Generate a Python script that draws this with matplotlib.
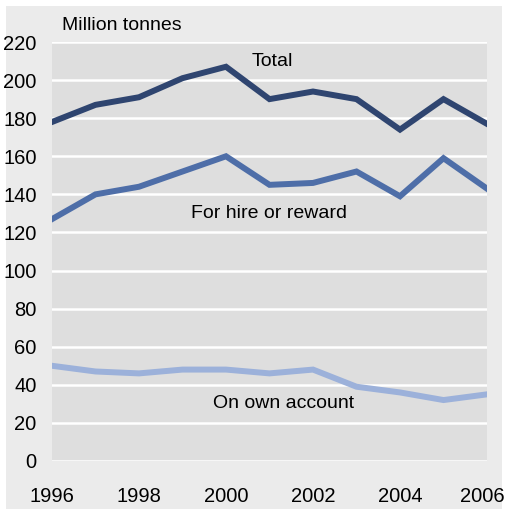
import matplotlib.pyplot as plt
import matplotlib.transforms as mtransforms
from matplotlib.patches import Rectangle

years = list(range(1996, 2007))
total = [178, 187, 191, 201, 207, 190, 194, 190, 174, 190, 177]
hire = [127, 140, 144, 152, 160, 145, 146, 152, 139, 159, 143]
own = [50, 47, 46, 48, 48, 46, 48, 39, 36, 32, 35]

plt.rcParams['font.family'] = ['Liberation Sans', 'DejaVu Sans']

fig = plt.figure(figsize=(5.07, 5.09), dpi=100)
fig.patch.set_facecolor('white')
# light grey panel behind the chart
fig.patches.append(Rectangle((6 / 507, 0), 496 / 507, 503 / 509,
                             transform=fig.transFigure, facecolor='#ebebeb',
                             edgecolor='none', zorder=-1))

ax = fig.add_axes([52 / 507, 48 / 509, 435 / 507, 419 / 509])
ax.set_facecolor('#dedede')

ax.plot(years, total, color='#2f4570', lw=4.3, solid_joinstyle='miter', zorder=3)
ax.plot(years, hire, color='#4e6ea8', lw=4.3, solid_joinstyle='miter', zorder=3)
ax.plot(years, own, color='#9cb1da', lw=4.3, solid_joinstyle='miter', zorder=3)

ax.set_xlim(1996, 2006)
ax.set_ylim(0, 220)
ax.set_xticks(range(1996, 2007, 2))
ax.set_yticks(range(0, 221, 20))
ax.grid(axis='y', color='white', lw=1.8)
ax.set_axisbelow(True)
for s in ax.spines.values():
    s.set_visible(False)
ax.tick_params(length=0, labelsize=14.5)
ax.tick_params(axis='x', pad=19)
ax.tick_params(axis='y', pad=11)

# nudge the last year label so it stays inside the figure
last = ax.get_xticklabels()[-1]
last.set_transform(last.get_transform() +
                   mtransforms.ScaledTranslation(-5 / 100, 0, fig.dpi_scale_trans))

ax.text(2000.6, 209.5, 'Total', fontsize=14, ha='left', va='center')
ax.text(2001.0, 130, 'For hire or reward', fontsize=14, ha='center', va='center')
ax.text(2001.33, 30, 'On own account', fontsize=14, ha='center', va='center')
fig.text(62 / 507, 1 - 25 / 509, 'Million tonnes', fontsize=14, ha='left', va='center')

fig.savefig('out.png', dpi=100)
